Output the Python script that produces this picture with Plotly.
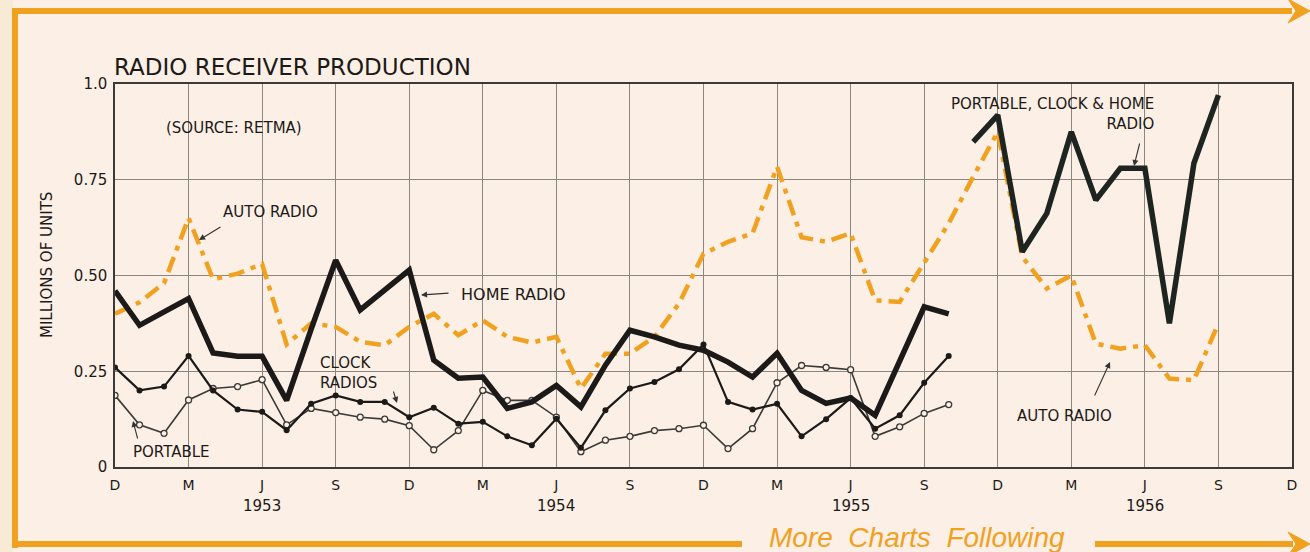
import plotly.graph_objects as go

# ---------------- data (months from Dec 1952 = 0) ----------------
tick_months = list(range(0, 49, 3))
tick_labels = ["D", "M", "J", "S"] * 4 + ["D"]
year_labels = ["1953", "1954", "1955", "1956"]
year_months = [6, 18, 30, 42]

auto_months = list(range(0, 46))
auto_radio = [0.40, 0.43, 0.48, 0.65, 0.49, 0.505, 0.53, 0.32, 0.375, 0.366,
              0.327, 0.318, 0.366, 0.40, 0.344, 0.383, 0.34, 0.325, 0.34, 0.205,
              0.296, 0.296, 0.34, 0.427, 0.557, 0.588, 0.61, 0.784, 0.60, 0.588,
              0.61, 0.435, 0.431, 0.531, 0.636, 0.758, 0.875, 0.549, 0.466, 0.50,
              0.322, 0.309, 0.318, 0.231, 0.227, 0.375]

sep_months = list(range(0, 35))
home_radio = [0.46, 0.37, 0.405, 0.44, 0.298, 0.289, 0.289, 0.174, 0.36, 0.54,
              0.41, 0.46, 0.514, 0.279, 0.232, 0.235, 0.153, 0.17, 0.213, 0.157,
              0.266, 0.357, 0.34, 0.318, 0.305, 0.274, 0.235, 0.297, 0.20, 0.166,
              0.18, 0.135, 0.28, 0.418, 0.40]
clock_radios = [0.26, 0.20, 0.21, 0.29, 0.20, 0.15, 0.144, 0.096, 0.165, 0.187,
                0.17, 0.17, 0.13, 0.155, 0.113, 0.118, 0.08, 0.057, 0.126, 0.05,
                0.148, 0.205, 0.222, 0.255, 0.32, 0.17, 0.15, 0.165, 0.08, 0.125,
                0.18, 0.10, 0.135, 0.22, 0.29]
portable = [0.187, 0.11, 0.088, 0.175, 0.205, 0.21, 0.228, 0.11, 0.153, 0.142,
            0.13, 0.125, 0.108, 0.045, 0.095, 0.2, 0.174, 0.174, 0.13, 0.04,
            0.07, 0.08, 0.095, 0.1, 0.109, 0.048, 0.1, 0.22, 0.265, 0.26,
            0.254, 0.08, 0.105, 0.14, 0.163]

combined_months = list(range(35, 46))
combined = [0.849, 0.919, 0.562, 0.662, 0.875, 0.697, 0.78, 0.78, 0.375, 0.793, 0.971]

y_ticks = [0, 0.25, 0.5, 0.75, 1.0]
y_tick_text = ["0", "0.25", "0.50", "0.75", "1.0"]

# ---------------- styling ----------------
W, H = 1310, 552
L, R, T, B = 115, 1292, 84, 467
BG = "#fcefe5"
ORANGE = "#f0a11f"
INK = "#1c1a18"
FONT = "DejaVu Sans, Verdana, sans-serif"


def px(X, Y):
    return (X - L) / (R - L), (B - Y) / (B - T)


fig = go.Figure()

fig.add_trace(go.Scatter(x=auto_months, y=auto_radio, mode="lines",
                         line=dict(color=ORANGE, width=4.5, dash="16px,7px,5px,7px"),
                         name="Auto radio"))
fig.add_trace(go.Scatter(x=sep_months, y=portable, mode="lines+markers",
                         line=dict(color="#3a3a36", width=1.6),
                         marker=dict(symbol="circle", size=6, color=BG,
                                     line=dict(color="#3a3a36", width=1.3)),
                         name="Portable"))
fig.add_trace(go.Scatter(x=sep_months, y=clock_radios, mode="lines+markers",
                         line=dict(color=INK, width=2.2),
                         marker=dict(symbol="circle", size=6, color=INK),
                         name="Clock radios"))
fig.add_trace(go.Scatter(x=sep_months, y=home_radio, mode="lines",
                         line=dict(color=INK, width=5.5),
                         name="Home radio"))
fig.add_trace(go.Scatter(x=combined_months, y=combined, mode="lines",
                         line=dict(color="#1e2420", width=5.5),
                         name="Portable, clock & home radio"))

shapes = []
# slightly yellower strip outside the frame on the left
sa, sb = px(0, 0)
sc, sd = px(13, 552)
shapes.append(dict(type="rect", xref="paper", yref="paper", x0=sa, y0=sb, x1=sc, y1=sd,
                   fillcolor="#f8ebd6", line=dict(width=0), layer="below"))
# orange frame
x0, y0 = px(15, 11)
x1, _ = px(1292, 11)
shapes.append(dict(type="line", xref="paper", yref="paper", x0=x0, y0=y0, x1=x1, y1=y0,
                   line=dict(color=ORANGE, width=6)))
xa, ya = px(15, 8)
xb, yb = px(15, 548)
shapes.append(dict(type="line", xref="paper", yref="paper", x0=xa, y0=ya, x1=xb, y1=yb,
                   line=dict(color=ORANGE, width=6)))
xa, ya = px(15, 544)
xb, _ = px(742, 544)
shapes.append(dict(type="line", xref="paper", yref="paper", x0=xa, y0=ya, x1=xb, y1=ya,
                   line=dict(color=ORANGE, width=6)))
xa, _ = px(1095, 544)
xb, _ = px(1293, 544)
shapes.append(dict(type="line", xref="paper", yref="paper", x0=xa, y0=ya, x1=xb, y1=ya,
                   line=dict(color=ORANGE, width=6)))


def arrowhead(tipx, tipy):
    pts = [(tipx, tipy), (tipx - 22, tipy - 12), (tipx - 14, tipy), (tipx - 22, tipy + 12)]
    p = [px(a, b) for a, b in pts]
    path = "M " + " L ".join(f"{a},{b}" for a, b in p) + " Z"
    return dict(type="path", xref="paper", yref="paper", path=path,
                fillcolor=ORANGE, line=dict(color=ORANGE, width=1))


shapes.append(arrowhead(1310, 11))
shapes.append(arrowhead(1310, 544))

annotations = []


def text(X, Y, s, size=16, anchor="center", align="center", color=INK, family=FONT, **kw):
    ax_, ay_ = px(X, Y)
    annotations.append(dict(xref="paper", yref="paper", x=ax_, y=ay_, text=s,
                            showarrow=False, xanchor=anchor, yanchor="middle",
                            align=align, font=dict(family=family, size=size, color=color), **kw))


def arrow(fromX, fromY, toX, toY):
    tx, ty = px(toX, toY)
    annotations.append(dict(xref="paper", yref="paper", x=tx, y=ty, text="",
                            showarrow=True, axref="pixel", ayref="pixel",
                            ax=fromX - toX, ay=fromY - toY,
                            arrowhead=2, arrowsize=1.1, arrowwidth=1.1,
                            arrowcolor="#333", standoff=0))


text(112, 67, "RADIO RECEIVER PRODUCTION", size=23, anchor="left")
text(234, 128, "(SOURCE: RETMA)", size=15)
text(270, 212, "AUTO RADIO", size=15)
arrow(222, 226, 199, 240)
text(513, 294, "HOME RADIO", size=16)
arrow(450, 293, 421, 295)
text(318, 373, "CLOCK<br>RADIOS", size=15, anchor="left", align="left")
arrow(393, 390, 397, 403)
text(171, 452, "PORTABLE", size=15)
arrow(138, 440, 133, 421)
text(1156, 114, "PORTABLE, CLOCK &amp; HOME<br>RADIO", size=15, anchor="right", align="right")
arrow(1140, 142, 1134, 166)
text(1064, 416, "AUTO RADIO", size=15)
arrow(1094, 397, 1110, 362)
text(47, 265, "MILLIONS OF UNITS", size=15, textangle=-90)
text(917, 537, "<i>More  Charts  Following</i>", size=28, color=ORANGE,
     family="Liberation Sans, Arial, sans-serif")

for ym, lab in zip(year_months, year_labels):
    xx = ym / 48
    _, yy = px(0, 506)
    annotations.append(dict(xref="paper", yref="paper", x=xx, y=yy, text=lab,
                            showarrow=False, xanchor="center", yanchor="middle",
                            font=dict(family=FONT, size=15, color=INK)))

fig.update_layout(
    width=W, height=H, autosize=False,
    margin=dict(l=L, r=W - R, t=T, b=H - B),
    paper_bgcolor=BG, plot_bgcolor=BG,
    showlegend=False,
    shapes=shapes, annotations=annotations,
    xaxis=dict(range=[0, 48], tickvals=tick_months, ticktext=tick_labels,
               showgrid=True, gridcolor="#8c8680", gridwidth=1,
               showline=True, linecolor="#3c3a38", linewidth=1.5, mirror=True,
               ticks="", zeroline=False, ticklabelstandoff=4,
               tickfont=dict(family=FONT, size=14, color=INK)),
    yaxis=dict(range=[0, 1.0], tickvals=y_ticks, ticktext=y_tick_text,
               showgrid=True, gridcolor="#8c8680", gridwidth=1,
               showline=True, linecolor="#3c3a38", linewidth=1.5, mirror=True,
               ticks="", zeroline=False, ticklabelstandoff=3,
               tickfont=dict(family=FONT, size=15, color=INK)),
)

fig.write_html("out.html", config={"displayModeBar": False},
               post_script="document.body.style.margin='0px';document.body.style.background='%s';" % BG)
